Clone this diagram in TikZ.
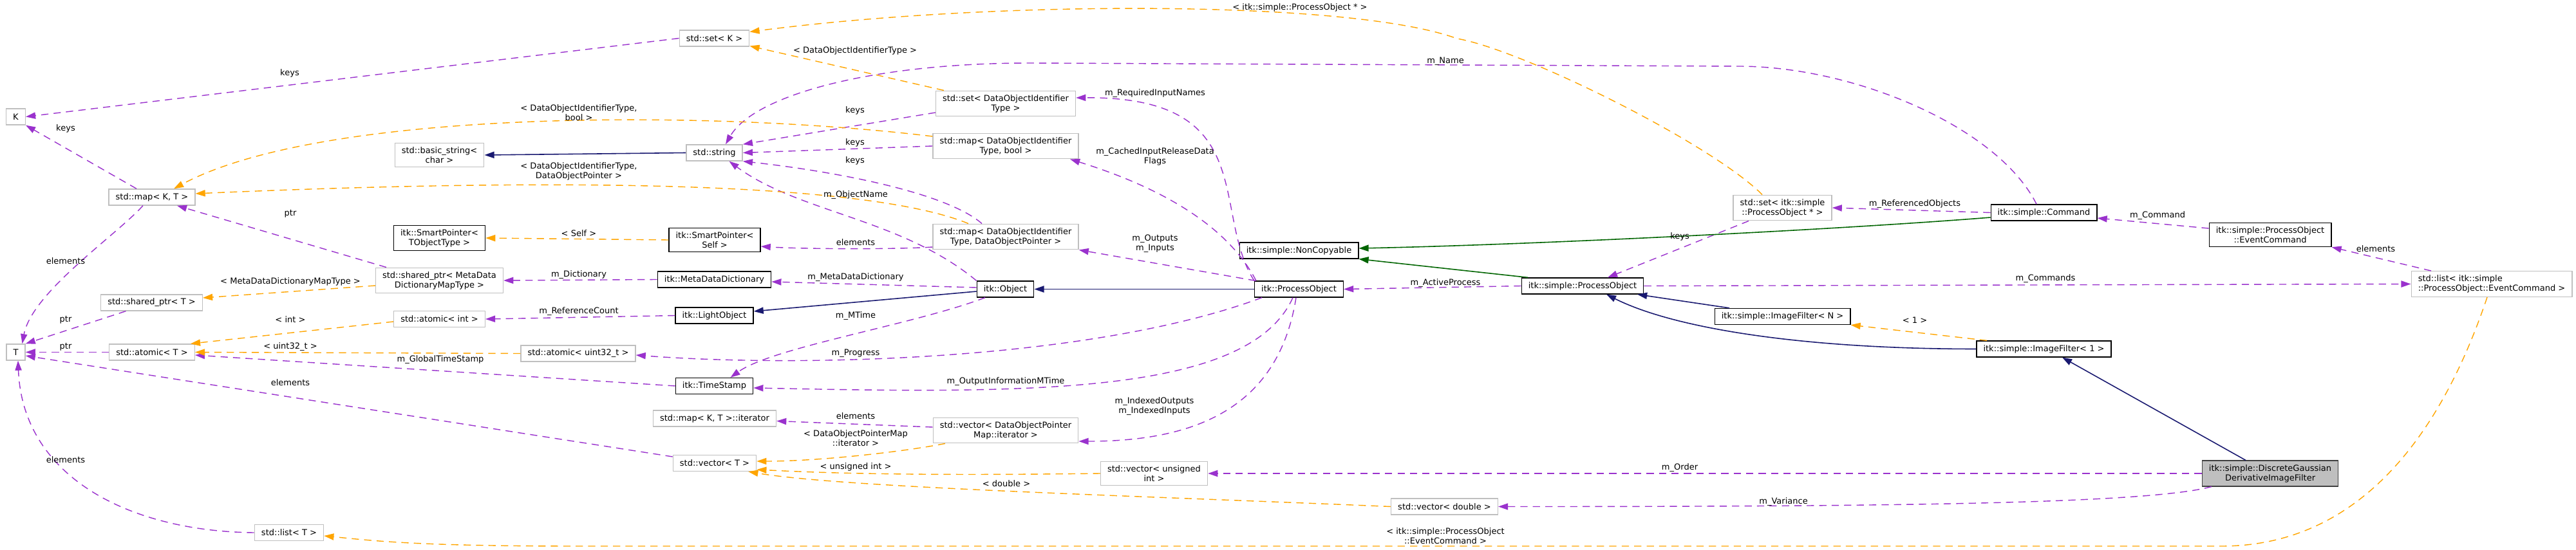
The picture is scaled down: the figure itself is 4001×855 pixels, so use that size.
\documentclass[tikz,border=0pt]{standalone}
\usepackage{fontspec}
\setmainfont{DejaVu Sans}
\usetikzlibrary{arrows.meta}

\definecolor{usecol}{HTML}{9A32CD}
\definecolor{tplcol}{HTML}{FFA500}
\definecolor{inhcol}{HTML}{191970}
\definecolor{ncpcol}{HTML}{006400}
\definecolor{grayborder}{HTML}{BFBFBF}
\definecolor{mainfill}{HTML}{BFBFBF}
\definecolor{mainborder}{HTML}{404040}

\tikzset{
  stdbox/.style={draw=grayborder, line width=0.4pt, fill=white, inner xsep=3pt, inner ysep=1.7pt, minimum height=7.1pt, align=center},
  itkbox/.style={stdbox, draw=black, line width=0.38pt},
  mainbox/.style={stdbox, draw=mainborder, fill=mainfill, line width=0.42pt},
  usage/.style={draw=usecol, line width=0.4pt, dash pattern=on 3.2pt off 2.3pt, -{Triangle[length=4.3pt,width=2.9pt]}},
  tmpl/.style={usage, draw=tplcol},
  inherit/.style={draw=inhcol, line width=0.45pt, -{Triangle[length=4.3pt,width=2.9pt]}},
  noncopy/.style={inherit, draw=ncpcol},
  lbl/.style={inner sep=0pt, align=center}
}

\begin{document}
\begin{tikzpicture}[x=0.01cm, y=-0.01cm, font=\fontsize{3.7pt}{4.27pt}\selectfont]
    \useasboundingbox (0,0) rectangle (4001,855);

    % Nodi a sinistra
    \node[stdbox] (K) at (24.5,181.5) {K};
    \node[stdbox] (T) at (24.5,547.5) {T};
    \node[stdbox] (mapKT) at (236,306.5) {std::map< K, T >};
    \node[stdbox] (sharedT) at (235.5,470.5) {std::shared\_ptr< T >};
    \node[stdbox] (atomicT) at (236,547.5) {std::atomic< T >};
    \node[stdbox] (listT) at (449,828) {std::list< T >};
    \node[stdbox] (basicstr) at (682.5,241) {std::basic\_string<\\char >};
    \node[itkbox] (spTObj) at (682.5,370) {itk::SmartPointer<\\TObjectType >};
    \node[stdbox] (sharedMD) at (682.5,436) {std::shared\_ptr< MetaData\\DictionaryMapType >};
    \node[stdbox] (atomicInt) at (682.5,496) {std::atomic< int >};
    \node[stdbox] (atomicU32) at (898,549.5) {std::atomic< uint32\_t >};

    % Colonna centrale
    \node[stdbox] (setK) at (1109.5,59.5) {std::set< K >};
    \node[stdbox] (string) at (1109.5,237.5) {std::string};
    \node[itkbox] (spSelf) at (1110,373) {itk::SmartPointer<\\Self >};
    \node[itkbox] (mdd) at (1109.5,434.5) {itk::MetaDataDictionary};
    \node[itkbox] (lightObj) at (1109.5,490.5) {itk::LightObject};
    \node[itkbox] (timeStamp) at (1109.5,600) {itk::TimeStamp};
    \node[stdbox] (mapIter) at (1110,650.5) {std::map< K, T >::iterator};
    \node[stdbox] (vecT) at (1110,720) {std::vector< T >};

    % Contenitori di DataObject
    \node[stdbox] (setDOI) at (1562,161) {std::set< DataObjectIdentifier\\Type >};
    \node[stdbox] (mapBool) at (1562,227) {std::map< DataObjectIdentifier\\Type, bool >};
    \node[stdbox] (mapDOP) at (1562,368) {std::map< DataObjectIdentifier\\Type, DataObjectPointer >};
    \node[itkbox] (object) at (1561.5,449.5) {itk::Object};
    \node[stdbox] (vecIter) at (1562,669) {std::vector< DataObjectPointer\\Map::iterator >};
    \node[stdbox] (vecUInt) at (1792.5,736) {std::vector< unsigned\\int >};
    \node[itkbox] (procObj) at (2017.5,449.5) {itk::ProcessObject};
    \node[itkbox] (nonCopy) at (2017.5,389.5) {itk::simple::NonCopyable};
    \node[stdbox] (vecDbl) at (2243.5,787.5) {std::vector< double >};

    % Parte destra
    \node[itkbox] (sProcObj) at (2458,444.5) {itk::simple::ProcessObject};
    \node[stdbox] (setSPO) at (2768.5,323) {std::set< itk::simple\\::ProcessObject * >};
    \node[itkbox] (imgFiltN) at (2768.5,492) {itk::simple::ImageFilter< N >};
    \node[itkbox] (command) at (3174.5,330.5) {itk::simple::Command};
    \node[itkbox] (imgFilt1) at (3174.5,542.5) {itk::simple::ImageFilter< 1 >};
    \node[itkbox] (evCmd) at (3526,365) {itk::simple::ProcessObject\\::EventCommand};
    \node[mainbox] (dgdif) at (3526,736) {itk::simple::DiscreteGaussian\\DerivativeImageFilter};
    \node[stdbox, align=left] (listEv) at (3870,441.5) {std::list< itk::simple\\::ProcessObject::EventCommand >};

    % Frecce di utilizzo (viola)
    \draw[usage] (setK.west) -- (K.east);
    \draw[usage] ([xshift=-0.24cm]mapKT.north) -- (K.south east);
    \draw[usage] ([xshift=-0.14cm]mapKT.south) .. controls +(-40,45) and +(15,-80) .. ([xshift=0.1cm]T.north);
    \draw[usage] ([xshift=-0.825cm]sharedMD.north) -- ([xshift=0.39cm]mapKT.south);
    \draw[usage] ([xshift=-0.4cm]sharedT.south) -- (T.north east);
    \draw[usage] (atomicT.west) -- (T.east);
    \draw[usage] (timeStamp.west) -- ([yshift=-0.045cm]atomicT.east);
    \draw[usage] ([yshift=0.1cm]vecT.west) -- ([yshift=-0.055cm]T.east);
    \draw[usage] (listT.west) .. controls +(-195,-2) and +(7,180) .. ([xshift=0.035cm]T.south);
    \draw[usage] (mdd.west) -- (sharedMD.east);
    \draw[usage] ([yshift=0.025cm]object.west) -- ([yshift=-0.035cm]mdd.east);
    \draw[usage] (lightObj.west) -- (atomicInt.east);
    \draw[usage] ([xshift=-0.315cm]object.south) .. controls +(-110,42) and +(65,-47) .. ([xshift=0.25cm]timeStamp.north);
    \draw[usage] ([xshift=-0.575cm]procObj.south) .. controls +(-260,97) and +(263,20) .. ([yshift=-0.025cm]atomicU32.east);
    \draw[usage] ([xshift=-0.095cm]procObj.south) .. controls +(-68,152) and +(429,9) .. ([yshift=-0.03cm]timeStamp.east);
    \draw[usage] ([xshift=-0.045cm]procObj.south) .. controls +(-28,177) and +(173,0) .. ([yshift=-0.17cm]vecIter.east);
    \draw[usage] ([yshift=0.05cm]vecIter.west) -- ([yshift=-0.04cm]mapIter.east);
    \draw[usage] ([yshift=-0.14cm]setDOI.west) -- (string.north east);
    \draw[usage] (mapBool.west) -- (string.east);
    \draw[usage] ([xshift=-0.37cm]mapDOP.north) .. controls +(-55,-48) and +(145,16) .. (string.south east);
    \draw[usage] (object.north west) .. controls +(-117,-97) and +(108,80) .. ([xshift=0.23cm]string.south);
    \draw[usage] ([yshift=-0.16cm]mapDOP.west) .. controls +(-60,4) and +(60,4) .. ([yshift=-0.1cm]spSelf.east);
    \draw[usage] (procObj.north west) .. controls +(-68,-107) and +(288,-2) .. ([yshift=0.09cm]setDOI.east);
    \draw[usage] ([xshift=0.03cm]procObj.north west) .. controls +(-45,-87) and +(138,43) .. ([xshift=1.0cm]mapBool.south);
    \draw[usage] ([xshift=0.02cm]procObj.north west) -- (mapDOP.south east);
    \draw[usage] ([xshift=-0.115cm]command.north) .. controls +(-60,-120) and +(180,0) .. (2700,103) -- (1600,98) .. controls +(-250,0) and +(43,-75) .. ([xshift=0.175cm]string.north);
    \draw[usage] (command.west) -- (setSPO.east);
    \draw[usage] ([xshift=-0.525cm]setSPO.south) -- ([xshift=0.39cm]sProcObj.north);
    \draw[usage] (sProcObj.west) -- (procObj.east);
    \draw[usage] (sProcObj.east) -- (listEv.west);
    \draw[usage] ([yshift=0.1cm]evCmd.west) -- ([yshift=-0.085cm]command.east);
    \draw[usage] ([xshift=-0.94cm]listEv.north) -- (evCmd.south east);
    \draw[usage] (dgdif.west) -- (vecUInt.east);
    \draw[usage] ([xshift=-0.91cm]dgdif.south) .. controls +(-100,27) and +(600,0) .. (vecDbl.east);

    % Istanze di template (arancione)
    \draw[tmpl] ([xshift=-0.315cm]setSPO.north) .. controls +(-80,-80) and +(100,17) .. (2263,60) .. controls +(-163,-60) and +(383,-50) .. ([yshift=0.1cm]setK.east);
    \draw[tmpl] ([xshift=-0.96cm]setDOI.north) -- ([yshift=-0.12cm]setK.east);
    \draw[tmpl] ([yshift=0.15cm]mapBool.west) .. controls +(-347,-42) and +(230,-124) .. ([xshift=0.34cm]mapKT.north);
    \draw[tmpl] ([xshift=-0.58cm]mapDOP.north) .. controls +(-154,-63) and +(594,-26) .. ([yshift=0.055cm]mapKT.east);
    \draw[tmpl] (spSelf.west) -- (spTObj.east);
    \draw[tmpl] ([yshift=-0.08cm]sharedMD.west) -- ([yshift=0.075cm]sharedT.east);
    \draw[tmpl] ([yshift=-0.04cm]atomicInt.west) -- ([xshift=-0.07cm]atomicT.north east);
    \draw[tmpl] (atomicU32.west) -- (atomicT.east);
    \draw[tmpl] ([xshift=-0.94cm]vecIter.south) .. controls +(-60,12) and +(100,0) .. ([yshift=0.03cm]vecT.east);
    \draw[tmpl] (vecUInt.west) .. controls +(-300,4) and +(100,5) .. ([yshift=-0.1cm]vecT.east);
    \draw[tmpl] (vecDbl.west) .. controls +(-400,-17) and +(150,25) .. ([xshift=-0.13cm]vecT.south east);
    \draw[tmpl] ([xshift=-0.07cm]listEv.south) .. controls +(-63,188) and +(230,0) .. (3450,849) -- (900,849) .. controls +(-250,0) and +(80,8) .. ([yshift=-0.05cm]listT.east);
    \draw[tmpl] ([xshift=-0.885cm]imgFilt1.north) -- (imgFiltN.south east);

    % Ereditarieta' (blu e verde)
    \draw[inherit] (string.west) -- (basicstr.east);
    \draw[inherit] ([yshift=-0.035cm]object.west) -- ([yshift=0.065cm]lightObj.east);
    \draw[inherit] (procObj.west) -- (object.east);
    \draw[inherit] ([xshift=-0.825cm]imgFiltN.north) -- ([xshift=0.85cm]sProcObj.south);
    \draw[inherit] (imgFilt1.west) .. controls +(-269,0) and +(105,53) .. ([xshift=0.37cm]sProcObj.south);
    \draw[inherit] ([xshift=-0.38cm]dgdif.north) -- ([xshift=0.285cm]imgFilt1.south);
    \draw[noncopy] ([yshift=-0.075cm]command.west) .. controls +(-250,20) and +(250,-5) .. ([yshift=0.035cm]nonCopy.east);
    \draw[noncopy] ([xshift=-0.85cm]sProcObj.north) -- (nonCopy.south east);

    % Etichette
    \node[lbl] (lbKeysSetK) at (450,114) {keys};
    \node[lbl] (lbKeysMap) at (102,200) {keys};
    \node[lbl] (lbElemMap) at (102,406) {elements};
    \node[lbl] (lbPtrMD) at (451,332) {ptr};
    \node[lbl] (lbPtrShared) at (102,497) {ptr};
    \node[lbl] (lbPtrAtomic) at (102,539) {ptr};
    \node[lbl] (lbGlobalTS) at (684,559) {m\_GlobalTimeStamp};
    \node[lbl] (lbElemVec) at (451,595) {elements};
    \node[lbl] (lbElemList) at (102,715) {elements};
    \node[lbl] (lbDict) at (899,427) {m\_Dictionary};
    \node[lbl] (lbMDD) at (1329,431) {m\_MetaDataDictionary};
    \node[lbl] (lbRefCount) at (899,484) {m\_ReferenceCount};
    \node[lbl] (lbMTime) at (1329,491) {m\_MTime};
    \node[lbl] (lbProgress) at (1329,549) {m\_Progress};
    \node[lbl] (lbOutInfo) at (1562,593) {m\_OutputInformationMTime};
    \node[lbl] (lbIndexed) at (1793,632) {m\_IndexedOutputs\\m\_IndexedInputs};
    \node[lbl] (lbElemIter) at (1329,647) {elements};
    \node[lbl] (lbKeysSet) at (1328,172) {keys};
    \node[lbl] (lbKeysBool) at (1328,222) {keys};
    \node[lbl] (lbKeysDOP) at (1328,250) {keys};
    \node[lbl] (lbObjName) at (1329,303) {m\_ObjectName};
    \node[lbl] (lbElemSP) at (1329,377) {elements};
    \node[lbl] (lbReqInput) at (1794,145) {m\_RequiredInputNames};
    \node[lbl] (lbCached) at (1794,243) {m\_CachedInputReleaseData\\Flags};
    \node[lbl] (lbOutputs) at (1794,379) {m\_Outputs\\m\_Inputs};
    \node[lbl] (lbName) at (2245,95) {m\_Name};
    \node[lbl] (lbRefObj) at (2974,317) {m\_ReferencedObjects};
    \node[lbl] (lbKeysSPO) at (2609,368) {keys};
    \node[lbl] (lbActive) at (2245,440) {m\_ActiveProcess};
    \node[lbl] (lbCommands) at (3177,433) {m\_Commands};
    \node[lbl] (lbCommand) at (3351,335) {m\_Command};
    \node[lbl] (lbElemEv) at (3690,387) {elements};
    \node[lbl] (lbOrder) at (2609,727) {m\_Order};
    \node[lbl] (lbVariance) at (2770,780) {m\_Variance};
    \node[lbl] (lbTplSPO) at (2019,12) {< itk::simple::ProcessObject * >};
    \node[lbl] (lbTplDOI) at (1328,79) {< DataObjectIdentifierType >};
    \node[lbl] (lbTplBool) at (899,175.5) {< DataObjectIdentifierType,\\bool >};
    \node[lbl] (lbTplDOP) at (899,266.5) {< DataObjectIdentifierType,\\DataObjectPointer >};
    \node[lbl] (lbTplSelf) at (899,363) {< Self >};
    \node[lbl] (lbTplMD) at (451,438) {< MetaDataDictionaryMapType >};
    \node[lbl] (lbTplInt) at (451,497) {< int >};
    \node[lbl] (lbTplU32) at (451,539) {< uint32\_t >};
    \node[lbl] (lbTplIter) at (1329,681.5) {< DataObjectPointerMap\\::iterator >};
    \node[lbl] (lbTplUInt) at (1329,726) {< unsigned int >};
    \node[lbl] (lbTplDbl) at (1563,752) {< double >};
    \node[lbl] (lbTplEv) at (2245,833) {< itk::simple::ProcessObject\\::EventCommand >};
    \node[lbl] (lbTplOne) at (2974,498) {< 1 >};
\end{tikzpicture}
\end{document}
